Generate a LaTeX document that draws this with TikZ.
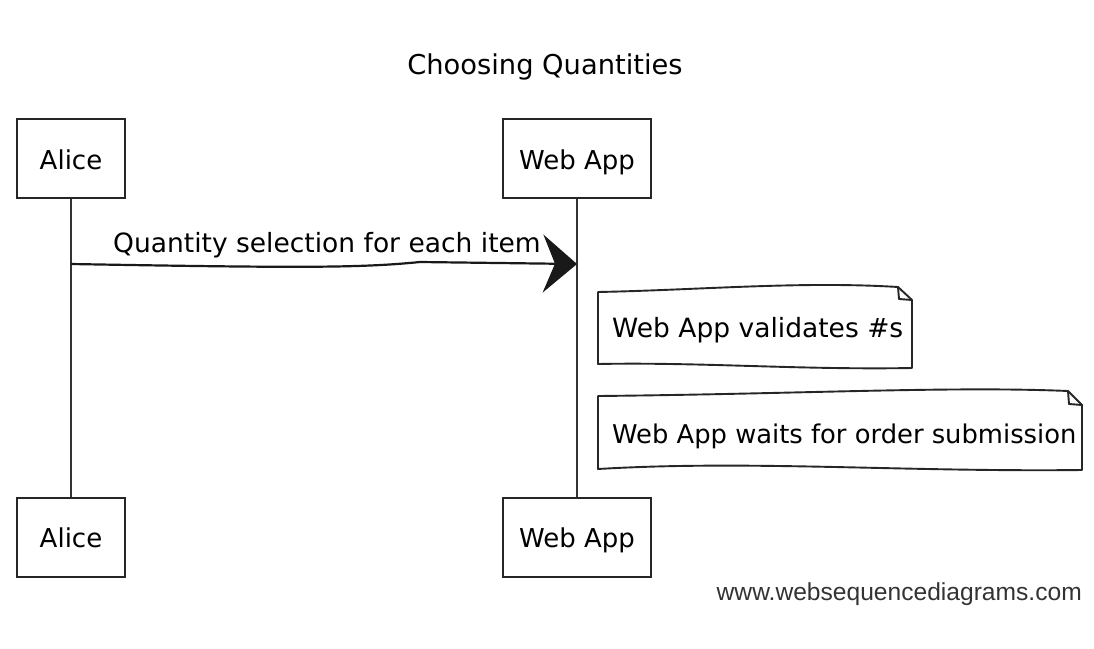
\documentclass[tikz,border=0pt]{standalone}
\usepackage{fontspec}
\setmainfont{DejaVu Sans}
\newfontfamily\footfont{Liberation Sans}
\usetikzlibrary{arrows.meta}
\tikzset{
  actor/.style={draw=black!85, line width=2pt, minimum height=79pt, inner sep=0pt, text height=21pt, text depth=0pt, font=\fontsize{26}{30}\selectfont},
  lifeline/.style={draw=black!80, line width=1.7pt},
  msg/.style={draw=black!90, line width=2.2pt, -{Stealth[length=34pt,width=58pt,inset=12pt]}},
  hand/.style={font=\fontsize{26.5}{30}\selectfont, inner sep=0pt},
  noteline/.style={draw=black!85, line width=1.9pt, line join=round}
}
\begin{document}
\begin{tikzpicture}[x=1pt,y=-1pt]
\useasboundingbox (0,0) rectangle (1094,648);
\fill[white] (0,0) rectangle (1094,648);

% title
\node[hand, font=\fontsize{27.3}{30}\selectfont] (title) at (545,67) {Choosing Quantities};

% participants
\node[actor, minimum width=108pt] (aliceT) at (71,158.5) {Alice};
\node[actor, minimum width=148pt] (webT) at (577,158.5) {Web App};
\node[actor, minimum width=108pt] (aliceB) at (71,537) {Alice};
\node[actor, minimum width=148pt] (webB) at (577,537) {Web App};

% lifelines
\draw[lifeline] (aliceT.south) -- (aliceB.north);
\draw[lifeline] (webT.south) -- (webB.north);

% message
\coordinate (m1s) at (aliceT.south |- 0,264);
\coordinate (m1e) at (webT.south |- 0,264);
\draw[msg] (m1s) .. controls (300,268) and (360,268) .. (420,262) -- (m1e);
\node[hand, anchor=base west] (m1l) at (113,252) {Quantity selection for each item};

% note 1
\draw[noteline] (598,292) .. controls (700,290) and (800,281) .. (898,287) -- (912,300) -- (912,368)
  .. controls (800,370) and (700,362) .. (598,364) -- cycle;
\draw[noteline] (898,287) -- (899,299) -- (912,300);
\node[hand, anchor=base west] (n1) at (612,337) {Web App validates \#s};

% note 2
\draw[noteline] (598,396) .. controls (800,394) and (950,386) .. (1068,391) -- (1082,405) -- (1082,470)
  .. controls (900,472) and (750,460) .. (598,469) -- cycle;
\draw[noteline] (1068,391) -- (1069,404) -- (1082,405);
\node[hand, font=\fontsize{25.8}{30}\selectfont, anchor=base west] (n2) at (612,443) {Web App waits for order submission};

% footer
\node[font=\footfont\fontsize{24.6}{28}\selectfont, text=black!80, anchor=base east, inner sep=0pt] (foot) at (1082,600) {www.websequencediagrams.com};
\end{tikzpicture}
\end{document}
